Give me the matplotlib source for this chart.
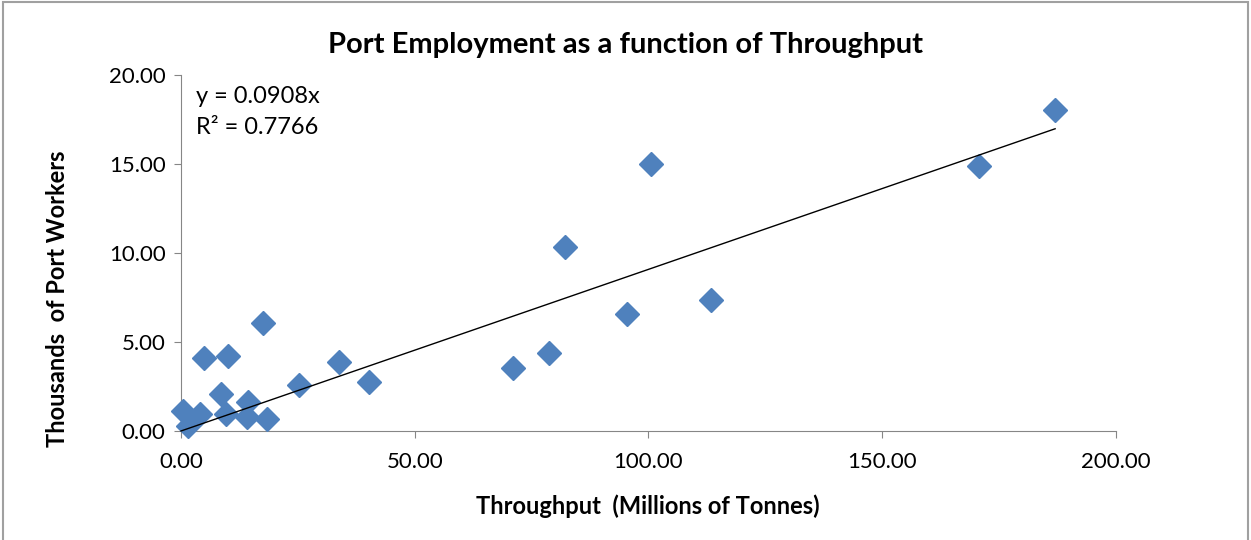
import matplotlib
matplotlib.use("Agg")
import matplotlib.pyplot as plt
import numpy as np
from matplotlib.ticker import FormatStrFormatter
from matplotlib.patches import Rectangle

# throughput (millions of tonnes) and port workers (thousands)
throughput = [0.4, 1.4, 4.1, 4.9, 10.0, 8.6, 9.6, 14.3, 14.2, 18.5, 17.5,
              25.3, 33.9, 40.2, 71.1, 78.8, 82.2, 95.5, 100.6, 113.4, 170.7, 187.0]
workers = [1.13, 0.28, 0.94, 4.10, 4.24, 2.07, 0.94, 1.60, 0.79, 0.66, 6.06,
           2.58, 3.86, 2.77, 3.56, 4.40, 10.35, 6.55, 15.0, 7.34, 14.9, 18.05]
slope = 0.0908
r2 = 0.7766

plt.rcParams['font.family'] = ['Lato', 'DejaVu Sans']

fig = plt.figure(figsize=(12.51, 5.40), dpi=100)
ax = fig.add_axes([0.1447, 0.2019, 0.7473, 0.6592])

ax.plot(throughput, workers, linestyle='none', marker='D', ms=12,
        color='#4F81BD', zorder=3, clip_on=False)

x_fit = np.array([0, max(throughput)])
ax.plot(x_fit, slope * x_fit, color='black', lw=1, zorder=4, clip_on=False)

ax.set_xlim(0, 200)
ax.set_ylim(0, 20)
ax.set_xticks(np.arange(0, 201, 50))
ax.set_yticks(np.arange(0, 21, 5))
ax.xaxis.set_major_formatter(FormatStrFormatter('%.2f'))
ax.yaxis.set_major_formatter(FormatStrFormatter('%.2f'))
ax.tick_params(axis='both', labelsize=16, color='#868686', length=5, direction='out')
ax.tick_params(axis='x', pad=10)
ax.tick_params(axis='y', pad=6)
for s in ['top', 'right']:
    ax.spines[s].set_visible(False)
for s in ['left', 'bottom']:
    ax.spines[s].set_color('#868686')

ax.text(0.016, 0.97, 'y = 0.0908x\nR² = 0.7766', transform=ax.transAxes,
        fontsize=17, va='top', ha='left', linespacing=1.6)

fig.text(0.5, 0.917, 'Port Employment as a function of Throughput',
         ha='center', va='center', fontsize=21, fontweight='bold')
fig.text(0.518, 0.063, 'Throughput  (Millions of Tonnes)',
         ha='center', va='center', fontsize=17, fontweight='bold')
fig.text(0.046, 0.446, 'Thousands  of Port Workers', rotation=90,
         ha='center', va='center', fontsize=17, fontweight='bold')

fig.patches.append(Rectangle((0.002, -0.01), 0.996, 1.006, transform=fig.transFigure,
                             fill=False, edgecolor='#A0A0A0', lw=1.5))

fig.savefig('out.png', dpi=100)
